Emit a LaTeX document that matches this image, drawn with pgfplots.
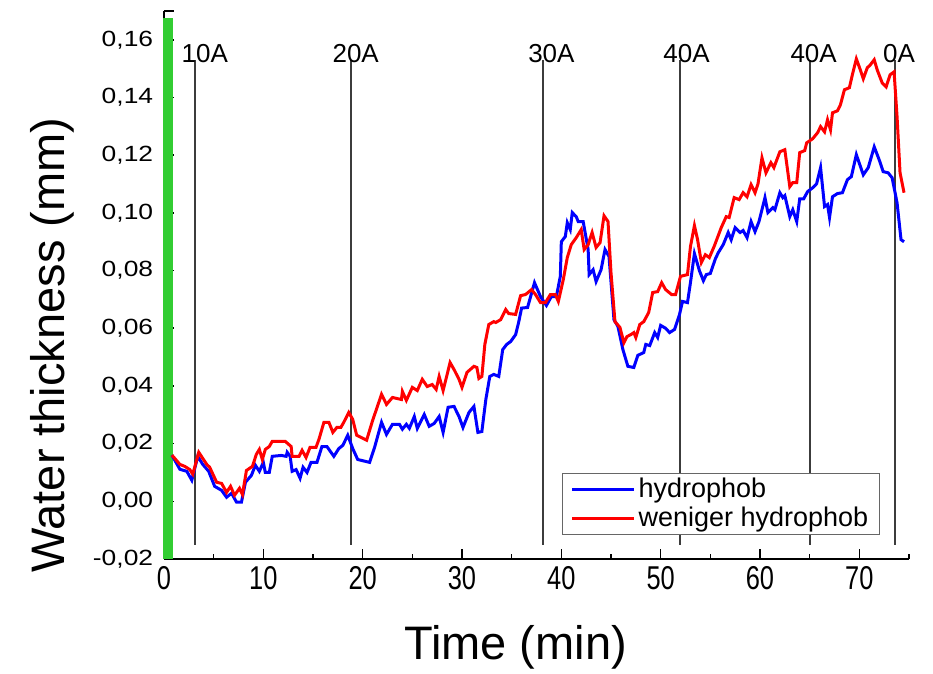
\documentclass[border=0pt]{standalone}
\usepackage{pgfplots}
\pgfplotsset{compat=1.18}
\usepackage{fontspec}
\setmainfont{Liberation Sans}

\definecolor{hgreen}{RGB}{50,205,50}
\definecolor{vline}{RGB}{60,60,60}

\newcommand{\tickfont}{\fontsize{13}{15}\selectfont}
\newcommand{\labfont}{\fontsize{23.5}{26}\selectfont}

\begin{document}
\begin{tikzpicture}
\useasboundingbox (-82pt,-57.5pt) rectangle (384.5pt,279.5pt);
\begin{axis}[
    scale only axis,
    width=372.5pt,
    height=274pt,
    at={(0,0)}, anchor=south west,
    xmin=0, xmax=75,
    ymin=-0.02, ymax=0.17,
    axis x line=bottom,
    axis y line=left,
    axis line style={-, line width=1pt},
    clip=false,
    xtick={0,10,...,70},
    minor xtick={5,15,...,75},
    ytick={-0.02,0,0.02,...,0.161},
    extra y ticks={0.17},
    extra y tick labels={},
    tick align=inside,
    major tick length=5pt,
    minor tick length=2.5pt,
    tick style={black, line width=0.8pt},
    scaled y ticks=false,
    /pgf/number format/assume math mode=true,
    xticklabel style={font=\fontsize{16.5}{18}\selectfont, xscale=0.77},
    yticklabel style={font=\fontsize{11}{13}\selectfont, xscale=1.2,
        /pgf/number format/fixed, /pgf/number format/fixed zerofill,
        /pgf/number format/precision=2, /pgf/number format/use comma, xshift=-1pt},
    xlabel={Time (min)},
    ylabel={Water thickness (mm)},
    xlabel style={font=\labfont, at={(axis description cs:0.472,-0.162)}, anchor=center},
    ylabel style={font=\labfont, at={(axis description cs:-0.15,0.39)}, anchor=center, rotate=0},
    legend style={at={(rel axis cs:0.961,0.044)}, anchor=south east,
        draw=black!60, line width=0.6pt, font=\fontsize{13.5}{15}\selectfont,
        inner xsep=4pt, inner ysep=1pt, row sep=0pt,
        nodes={inner sep=1.5pt}},
    legend cell align=left,
    legend image code/.code={\draw[#1, line width=1.5pt] (0pt,0pt) -- (31pt,0pt);},
]
% green marker along the y axis
\addplot[hgreen, line width=5pt, forget plot] coordinates {(0.4,-0.02) (0.4,0.1675)};

% current steps
\addplot[vline, line width=1pt, forget plot] coordinates {(3.12,-0.015) (3.12,0.153)};
\addplot[vline, line width=1pt, forget plot] coordinates {(18.83,-0.015) (18.83,0.153)};
\addplot[vline, line width=1pt, forget plot] coordinates {(38.2,-0.015) (38.2,0.153)};
\addplot[vline, line width=1pt, forget plot] coordinates {(51.9,-0.015) (51.9,0.153)};
\addplot[vline, line width=1pt, forget plot] coordinates {(65.0,-0.015) (65.0,0.153)};
\addplot[vline, line width=1pt, forget plot] coordinates {(73.6,-0.015) (73.6,0.153)};
\node[font=\tickfont, anchor=base] at (axis cs:4.1,0.152) {10A};
\node[font=\tickfont, anchor=base] at (axis cs:19.3,0.152) {20A};
\node[font=\tickfont, anchor=base] at (axis cs:39.0,0.152) {30A};
\node[font=\tickfont, anchor=base] at (axis cs:52.6,0.152) {40A};
\node[font=\tickfont, anchor=base] at (axis cs:65.4,0.152) {40A};
\node[font=\tickfont, anchor=base] at (axis cs:74.0,0.152) {0A};

\addplot[blue, line width=1.5pt] coordinates {
(0.8,0.0160) (1.6,0.0111) (2.3,0.0104) (2.8,0.0073) (3.4,0.0156) (3.9,0.0128)
(4.5,0.0104) (5.1,0.0052) (5.8,0.0038) (6.3,0.0014) (6.8,0.0028) (7.3,-0.0003)
(7.8,-0.0003) (8.2,0.0066) (8.8,0.0090) (9.2,0.0125) (9.6,0.0104) (10.0,0.0135)
(10.2,0.0100) (10.6,0.0100) (10.9,0.0156) (11.8,0.0159) (12.3,0.0156) (12.4,0.0170)
(12.7,0.0156) (12.9,0.0104) (13.3,0.0110) (13.7,0.0080) (14.0,0.0118) (14.4,0.0100)
(14.8,0.0135) (15.4,0.0135) (15.9,0.0190) (16.4,0.0190) (17.1,0.0156) (17.6,0.0183)
(18.0,0.0194) (18.5,0.0229) (19.0,0.0183) (19.5,0.0145) (20.7,0.0135) (21.2,0.0187)
(21.9,0.0274) (22.4,0.0232) (23.0,0.0267) (23.7,0.0267) (24.0,0.0250) (24.4,0.0267)
(24.7,0.0253) (25.2,0.0294) (25.5,0.0253) (26.2,0.0301) (26.7,0.0260) (27.2,0.0270)
(27.7,0.0294) (28.1,0.0239) (28.6,0.0326) (29.2,0.0329) (29.7,0.0294) (30.1,0.0256)
(30.7,0.0308) (31.2,0.0329) (31.6,0.0239) (32.0,0.0242) (32.4,0.0353) (32.8,0.0433)
(33.2,0.0440) (33.7,0.0433) (34.1,0.0526) (34.5,0.0544) (34.9,0.0554) (35.4,0.0578)
(35.7,0.0620) (36.0,0.0670) (36.6,0.0672) (37.3,0.0758) (37.9,0.0710) (38.5,0.0679)
(39.0,0.0710) (39.5,0.0710) (39.9,0.0780) (40.0,0.0900) (40.4,0.0918) (40.6,0.0966)
(40.9,0.0942) (41.1,0.1001) (41.5,0.0987) (41.7,0.0970) (42.2,0.0970) (42.7,0.0873)
(42.8,0.0786) (43.2,0.0803) (43.5,0.0762) (44.0,0.0803) (44.4,0.0873) (44.8,0.0849)
(45.3,0.0630) (45.7,0.0606) (46.2,0.0526) (46.7,0.0468) (47.3,0.0464) (47.7,0.0506)
(48.3,0.0516) (48.5,0.0544) (48.9,0.0540) (49.4,0.0585) (49.7,0.0568) (50.0,0.0610)
(50.5,0.0600) (50.9,0.0585) (51.4,0.0596) (51.9,0.0648) (52.2,0.0693) (52.7,0.0689)
(53.0,0.0758) (53.4,0.0859) (53.9,0.0800) (54.3,0.0765) (54.6,0.0786) (55.0,0.0790)
(55.5,0.0840) (55.8,0.0862) (56.3,0.0890) (56.8,0.0932) (57.1,0.0907) (57.5,0.0949)
(58.0,0.0932) (58.3,0.0939) (58.7,0.0914) (59.1,0.0970) (59.5,0.0935) (59.9,0.0970)
(60.5,0.1053) (60.8,0.1001) (61.3,0.1018) (61.5,0.1011) (62.0,0.1070) (62.3,0.1053)
(62.5,0.1060) (63.0,0.0987) (63.3,0.1011) (63.7,0.0970) (64.0,0.1049) (64.4,0.1049)
(64.8,0.1074) (65.3,0.1087) (65.7,0.1101) (66.1,0.1157) (66.5,0.1022) (66.8,0.1029)
(67.0,0.0984) (67.3,0.1056) (67.8,0.1067) (68.3,0.1070) (68.8,0.1115) (69.2,0.1126)
(69.7,0.1202) (70.4,0.1132) (70.9,0.1157) (71.5,0.1229) (72.0,0.1184) (72.4,0.1143)
(72.9,0.1139) (73.3,0.1122) (73.8,0.1035) (74.2,0.0907) (74.5,0.0900)
};
\addplot[red, line width=1.5pt] coordinates {
(0.8,0.0160) (1.6,0.0128) (2.1,0.0121) (2.6,0.0110) (2.9,0.0094) (3.5,0.0170)
(4.3,0.0128) (4.6,0.0118) (5.3,0.0066) (5.8,0.0062) (6.3,0.0031) (6.7,0.0052)
(7.1,0.0021) (7.6,0.0045) (7.9,0.0024) (8.3,0.0107) (8.9,0.0121) (9.3,0.0163)
(9.6,0.0180) (9.9,0.0145) (10.2,0.0180) (10.6,0.0190) (10.9,0.0208) (11.4,0.0208)
(12.2,0.0208) (12.8,0.0190) (12.9,0.0156) (13.6,0.0156) (13.9,0.0177) (14.3,0.0152)
(14.7,0.0187) (15.3,0.0187) (15.6,0.0215) (16.1,0.0274) (16.6,0.0274) (17.0,0.0239)
(17.4,0.0256) (17.8,0.0256) (18.1,0.0274) (18.6,0.0308) (19.0,0.0284) (19.4,0.0229)
(20.4,0.0212) (21.0,0.0280) (21.9,0.0371) (22.4,0.0336) (23.0,0.0360) (23.9,0.0353)
(24.0,0.0381) (24.4,0.0350) (25.0,0.0395) (25.5,0.0384) (26.0,0.0423) (26.5,0.0398)
(27.0,0.0405) (27.4,0.0388) (27.7,0.0433) (28.1,0.0384) (28.8,0.0481) (29.2,0.0457)
(29.7,0.0423) (30.0,0.0395) (30.5,0.0447) (31.2,0.0468) (31.5,0.0464) (31.7,0.0426)
(32.0,0.0433) (32.3,0.0544) (32.7,0.0613) (33.2,0.0623) (33.4,0.0620) (33.9,0.0630)
(34.4,0.0665) (34.7,0.0651) (35.4,0.0648) (35.9,0.0713) (36.4,0.0717) (37.0,0.0734)
(37.4,0.0717) (37.9,0.0689) (38.4,0.0689) (38.9,0.0717) (39.4,0.0717) (39.7,0.0693)
(40.2,0.0769) (40.6,0.0845) (41.0,0.0890) (41.5,0.0914) (42.0,0.0942) (42.3,0.0873)
(42.7,0.0890) (43.1,0.0932) (43.5,0.0880) (43.9,0.0897) (44.3,0.0990) (44.7,0.0970)
(45.0,0.0793) (45.4,0.0623) (45.9,0.0603) (46.3,0.0550) (46.6,0.0571) (47.0,0.0578)
(47.3,0.0585) (47.5,0.0568) (47.9,0.0613) (48.3,0.0623) (48.8,0.0655) (49.2,0.0724)
(49.7,0.0727) (50.1,0.0758) (50.5,0.0734) (51.1,0.0717) (51.5,0.0717) (52.0,0.0780)
(52.7,0.0786) (53.0,0.0883) (53.4,0.0956) (53.7,0.0910) (54.1,0.0828) (54.5,0.0855)
(54.9,0.0845) (55.4,0.0885) (56.1,0.0949) (56.6,0.0987) (56.9,0.0984) (57.4,0.1053)
(57.9,0.1046) (58.3,0.1070) (58.7,0.1056) (59.1,0.1098) (59.5,0.1070) (59.8,0.1101)
(60.2,0.1191) (60.6,0.1139) (61.1,0.1174) (61.4,0.1157) (62.0,0.1212) (62.5,0.1219)
(63.0,0.1091) (63.3,0.1105) (63.7,0.1105) (64.0,0.1209) (64.5,0.1216) (64.7,0.1243)
(65.3,0.1257) (65.8,0.1278) (66.1,0.1299) (66.5,0.1281) (66.8,0.1323) (67.1,0.1288)
(67.3,0.1347) (67.8,0.1354) (68.1,0.1375) (68.5,0.1427) (69.0,0.1434) (69.3,0.1479)
(69.7,0.1534) (70.1,0.1496) (70.4,0.1465) (70.8,0.1503) (71.1,0.1513) (71.5,0.1531)
(71.8,0.1496) (72.3,0.1451) (72.7,0.1437) (73.1,0.1479) (73.5,0.1489) (73.8,0.1333)
(74.1,0.1139) (74.5,0.1070)
};
\legend{hydrophob, weniger hydrophob}
\end{axis}
\end{tikzpicture}
\end{document}
